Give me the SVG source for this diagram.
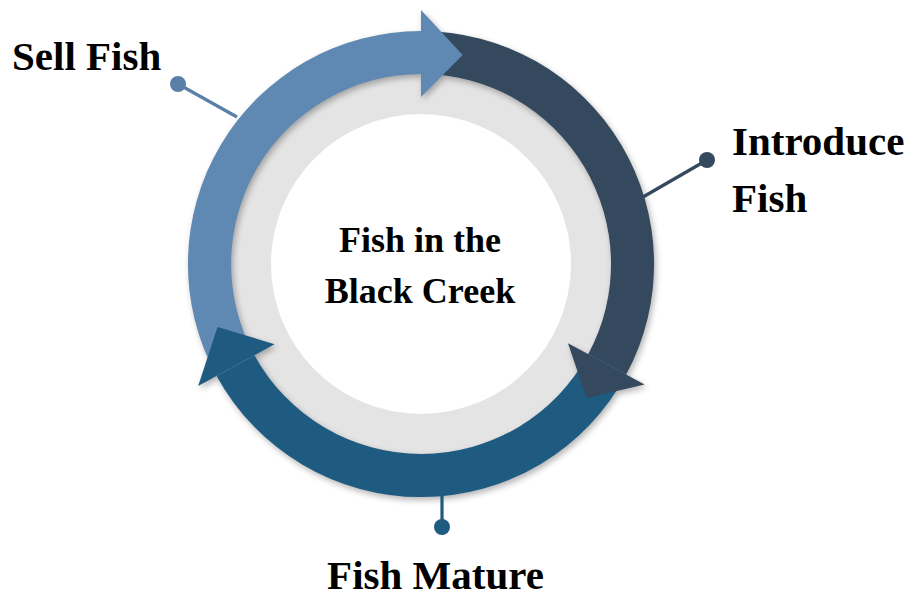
<svg xmlns="http://www.w3.org/2000/svg" width="911" height="598" viewBox="0 0 911 598">
  <defs>
    <filter id="soft-shadow" x="-20%" y="-20%" width="140%" height="140%">
      <feGaussianBlur in="SourceAlpha" stdDeviation="3.2"/>
      <feOffset dx="2" dy="3" result="blur"/>
      <feComponentTransfer>
        <feFuncA type="linear" slope="0.3"/>
      </feComponentTransfer>
    </filter>
    <!-- shared geometry of the three cycle segments -->
    <path id="shape-introduce" d="M421,31 A233,233 0 0 1 626.2,374.5 L588.3,354.1 A190,190 0 0 0 421,74 Z"/>
    <path id="shape-mature" d="M626.2,374.5 A233,233 0 0 1 216.6,375.9 L254.4,355.2 A190,190 0 0 0 588.3,354.1 Z"/>
    <path id="shape-sell" d="M216.6,375.9 A233,233 0 0 1 421,31 L421,74 A190,190 0 0 0 254.4,355.2 Z"/>
    <polygon id="tip-sell" points="421,97 421,10 462.7,55.1"/>
    <polygon id="tip-introduce" points="568.0,343.2 644.6,384.4 586.5,398.0"/>
    <polygon id="tip-mature" points="274.5,344.2 198.2,386.0 217.5,327.0"/>
    <style>
      .label { font-family: "Liberation Serif", "Times New Roman", serif; font-weight: bold; font-size: 41px; fill: #000; }
      .hub-text { font-family: "Liberation Serif", "Times New Roman", serif; font-weight: bold; font-size: 36px; fill: #000; text-anchor: middle; }
      .sell { fill: #5F88B2; }
      .introduce { fill: #34495E; }
      .mature { fill: #1F5A80; }
      .lead { stroke-width: 3.2; fill: none; }
    </style>
  </defs>
  <rect width="911" height="598" fill="#fff"/>

  <!-- hub: grey ring with white core -->
  <g id="hub">
    <circle cx="421" cy="264" r="196" fill="#E4E4E4"/>
    <circle cx="421" cy="264" r="150" fill="#fff"/>
    <text class="hub-text" x="420" y="252">Fish in the</text>
    <text class="hub-text" x="420" y="303">Black Creek</text>
  </g>

  <!-- soft shadow under the whole cycle ring -->
  <g id="ring-shadow" filter="url(#soft-shadow)">
    <use href="#shape-introduce"/>
    <use href="#shape-mature"/>
    <use href="#shape-sell"/>
    <use href="#tip-sell"/>
    <use href="#tip-introduce"/>
    <use href="#tip-mature"/>
  </g>

  <!-- cycle bands -->
  <g id="band-introduce" class="introduce"><use href="#shape-introduce"/></g>
  <g id="band-mature" class="mature"><use href="#shape-mature"/></g>
  <g id="band-sell" class="sell"><use href="#shape-sell"/></g>

  <!-- arrowheads, each lying over the start of the next band -->
  <g id="head-sell" class="sell"><use href="#tip-sell"/></g>
  <g id="head-introduce" class="introduce"><use href="#tip-introduce"/></g>
  <g id="head-mature" class="mature"><use href="#tip-mature"/></g>

  <!-- callout leads -->
  <g id="connectors">
    <line class="lead" x1="237" y1="117" x2="178" y2="84" stroke="#5B80A8"/>
    <circle cx="178" cy="84" r="8" fill="#5B80A8"/>
    <line class="lead" x1="643" y1="197" x2="707" y2="160" stroke="#34495E"/>
    <circle cx="707" cy="160" r="8" fill="#34495E"/>
    <line class="lead" x1="442" y1="494" x2="442" y2="527" stroke="#1F5A80"/>
    <circle cx="442" cy="527" r="8" fill="#1F5A80"/>
  </g>

  <!-- labels -->
  <g id="label-sell">
    <text class="label" x="12" y="70">Sell Fish</text>
  </g>
  <g id="label-introduce">
    <text class="label" x="732" y="155">Introduce</text>
    <text class="label" x="732" y="212">Fish</text>
  </g>
  <g id="label-mature">
    <text class="label" x="435.5" y="589" text-anchor="middle">Fish Mature</text>
  </g>
</svg>
